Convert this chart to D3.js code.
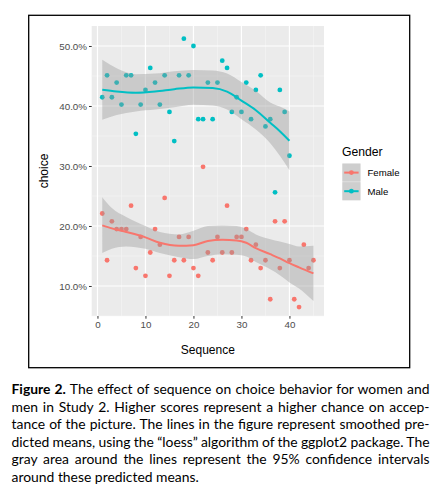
<!DOCTYPE html>
<html>
<head>
<meta charset="utf-8">
<script src="https://cdn.jsdelivr.net/npm/d3@7"></script>
<style>
  body { margin: 0; background: #fff; }
  svg { display: block; }
</style>
</head>
<body>
<div id="chart"></div>
<script>
// observed choice rates per sequence position (in %)
const femaleSeq = [1,2,3,4,5,6,7,8,9,10,11,12,13,14,15,16,17,18,19,20,21,22,23,24,25,26,27,28,29,30,31,32,33,34,35,36,37,38,39,40,41,42,43,44,45];
const femaleChoice = [22.08,14.29,20.78,19.48,19.48,19.48,23.38,12.99,18.18,11.69,15.58,19.48,16.88,24.68,11.69,14.29,18.18,14.29,18.18,12.99,11.69,29.87,15.58,14.29,18.18,15.58,23.38,15.58,18.18,18.18,19.48,14.29,16.88,12.99,14.29,7.79,20.78,12.99,20.78,14.29,7.79,6.49,16.88,12.99,14.29];

const maleSeq = [1,2,3,4,5,6,7,8,9,10,11,12,13,14,15,16,17,18,19,20,21,22,23,24,25,26,27,28,29,30,31,32,33,34,35,36,37,38,39,40];
const maleChoice = [41.46,45.12,41.46,43.90,40.24,45.12,45.12,35.37,40.24,42.68,46.34,43.90,40.24,45.12,39.02,34.15,45.12,51.22,45.12,50.00,37.80,37.80,43.90,37.80,43.90,47.56,46.34,39.02,41.46,39.02,43.90,37.80,42.68,45.12,36.59,37.80,25.61,42.68,39.02,31.71];

// loess fit and 95% band
const femaleFitSeq = [1,3,6,10,13,17,20,23,26,29,31,33,36,38,40,42,45];
const femaleFit =   [20.1,19.6,19.0,18.1,17.2,16.7,16.8,17.5,17.7,17.6,17.2,16.3,15.3,14.6,13.8,13.1,12.1];
const femaleUpper = [24.8,23.0,21.5,20.0,19.0,18.6,19.2,20.0,20.1,20.0,19.5,18.6,17.8,17.4,17.0,16.6,16.7];
const femaleLower = [15.5,16.2,16.6,16.2,15.5,14.8,14.5,15.0,15.3,15.2,14.9,14.0,12.8,11.8,10.6,9.6,7.5];

const maleFitSeq = [1,4,8,12,16,20,24,27,30,33,36,38,40];
const maleFit =   [42.7,42.4,42.2,42.4,42.8,43.1,43.0,42.4,40.9,39.3,37.2,35.8,34.2];
const maleUpper = [47.7,46.3,45.3,45.4,45.8,46.0,45.9,45.4,44.0,42.5,40.6,39.9,39.1];
const maleLower = [37.7,38.5,39.1,39.4,39.8,40.2,40.1,39.4,37.8,36.1,33.8,31.7,29.3];

const xTicks = [0,10,20,30,40];
const yTicks = [10,20,30,40,50];
const groups = ["Female", "Male"];
const colors = { Female: "#F8766D", Male: "#00BFC4" };

const caption = [
  "men in Study 2. Higher scores represent a higher chance on accep-",
  "tance of the picture. The lines in the figure represent smoothed pre-",
  "dicted means, using the \u201cloess\u201d algorithm of the ggplot2 package. The",
  "gray area around the lines represent the 95% confidence intervals",
  "around these predicted means."
];

const W = 436, H = 493;
const panel = { left: 91.7, right: 324, top: 26, bottom: 316 };

const svg = d3.select("#chart").append("svg")
    .attr("width", W)
    .attr("height", H);

// figure frame
svg.append("rect")
    .attr("x", 28.7).attr("y", 15.3)
    .attr("width", 381).attr("height", 352.4)
    .attr("fill", "none")
    .attr("stroke", "#000")
    .attr("stroke-width", 1.3);

const x = d3.scaleLinear().domain([-1.2, 47.2]).range([panel.left, panel.right]);
const y = d3.scaleLinear().domain([5, 53.333]).range([panel.bottom, panel.top]);

svg.append("rect")
    .attr("x", panel.left).attr("y", panel.top)
    .attr("width", panel.right - panel.left)
    .attr("height", panel.bottom - panel.top)
    .attr("fill", "#ebebeb");

const grid = svg.append("g");
const xMinor = [5,15,25,35,45];
const yMinor = [5,15,25,35,45];
grid.selectAll(".xmin").data(xMinor).enter().append("line")
    .attr("x1", d => x(d)).attr("x2", d => x(d))
    .attr("y1", panel.top).attr("y2", panel.bottom)
    .attr("stroke", "#f7f7f7").attr("stroke-width", 0.6);
grid.selectAll(".ymin").data(yMinor).enter().append("line")
    .attr("y1", d => y(d)).attr("y2", d => y(d))
    .attr("x1", panel.left).attr("x2", panel.right)
    .attr("stroke", "#f7f7f7").attr("stroke-width", 0.6);
grid.selectAll(".xmaj").data(xTicks).enter().append("line")
    .attr("x1", d => x(d)).attr("x2", d => x(d))
    .attr("y1", panel.top).attr("y2", panel.bottom)
    .attr("stroke", "#fff").attr("stroke-width", 1.2);
grid.selectAll(".ymaj").data(yTicks).enter().append("line")
    .attr("y1", d => y(d)).attr("y2", d => y(d))
    .attr("x1", panel.left).attr("x2", panel.right)
    .attr("stroke", "#fff").attr("stroke-width", 1.2);

// axes
const xAxis = svg.append("g")
    .attr("transform", "translate(0," + panel.bottom + ")")
    .call(d3.axisBottom(x).tickValues(xTicks).tickSize(2.7).tickPadding(2));
const yAxis = svg.append("g")
    .attr("transform", "translate(" + panel.left + ",0)")
    .call(d3.axisLeft(y).tickValues(yTicks).tickSize(2.7).tickPadding(2)
      .tickFormat(d => d3.format(".1f")(d) + "%"));
[xAxis, yAxis].forEach(a => {
  a.select(".domain").remove();
  a.selectAll(".tick line").attr("stroke", "#333").attr("stroke-width", 1);
  a.selectAll(".tick text")
      .attr("fill", "#4d4d4d")
      .style("font", "9.8px 'Liberation Sans', Arial, sans-serif");
});

svg.append("text")
    .attr("x", (panel.left + panel.right) / 2)
    .attr("y", 354)
    .attr("text-anchor", "middle")
    .style("font", "12px 'Liberation Sans', Arial, sans-serif")
    .text("Sequence");

svg.append("text")
    .attr("transform", "translate(48," + ((panel.top + panel.bottom) / 2) + ") rotate(-90)")
    .attr("text-anchor", "middle")
    .style("font", "12px 'Liberation Sans', Arial, sans-serif")
    .text("choice");

// points
const pts = svg.append("g");
const femalePts = femaleSeq.map((s, i) => ({ s: s, v: femaleChoice[i], g: "Female" }));
const malePts = maleSeq.map((s, i) => ({ s: s, v: maleChoice[i], g: "Male" }));
pts.selectAll("circle")
    .data(femalePts.concat(malePts))
    .enter().append("circle")
    .attr("cx", d => x(d.s))
    .attr("cy", d => y(d.v))
    .attr("r", 2.4)
    .attr("fill", d => colors[d.g]);

// smoothers with confidence bands
const smooth = {
  Female: femaleFitSeq.map((s, i) => ({ s: s, fit: femaleFit[i], hi: femaleUpper[i], lo: femaleLower[i] })),
  Male: maleFitSeq.map((s, i) => ({ s: s, fit: maleFit[i], hi: maleUpper[i], lo: maleLower[i] }))
};

const band = d3.area()
    .x(d => x(d.s))
    .y0(d => y(d.lo))
    .y1(d => y(d.hi))
    .curve(d3.curveMonotoneX);
const line = d3.line()
    .x(d => x(d.s))
    .y(d => y(d.fit))
    .curve(d3.curveMonotoneX);

groups.forEach(g => {
  svg.append("path")
      .datum(smooth[g])
      .attr("d", band)
      .attr("fill", "#999999")
      .attr("fill-opacity", 0.4);
  svg.append("path")
      .datum(smooth[g])
      .attr("d", line)
      .attr("fill", "none")
      .attr("stroke", colors[g])
      .attr("stroke-width", 2);
});

// legend
const legend = svg.append("g");
legend.append("text")
    .attr("x", 342).attr("y", 156)
    .style("font", "12.2px 'Liberation Sans', Arial, sans-serif")
    .text("Gender");
groups.forEach((g, i) => {
  const ky = 163.5 + i * 18.6;
  legend.append("rect")
      .attr("x", 342.3).attr("y", ky)
      .attr("width", 18.2).attr("height", 18.2)
      .attr("fill", "#f2f2f2");
  legend.append("rect")
      .attr("x", 342.3).attr("y", ky)
      .attr("width", 18.2).attr("height", 18.2)
      .attr("fill", "#999999").attr("fill-opacity", 0.4);
  legend.append("line")
      .attr("x1", 344.2).attr("x2", 358.6)
      .attr("y1", ky + 9.1).attr("y2", ky + 9.1)
      .attr("stroke", colors[g]).attr("stroke-width", 2);
  legend.append("circle")
      .attr("cx", 351.4).attr("cy", ky + 9.1).attr("r", 2.4)
      .attr("fill", colors[g]);
  legend.append("text")
      .attr("x", 367.5).attr("y", ky + 12.6)
      .style("font", "9.6px 'Liberation Sans', Arial, sans-serif")
      .text(g);
});

// caption, justified like the journal text
const capFont = "13.9px Lato, 'Open Sans', sans-serif";
const capLeft = 11.5, capRight = 429.5, capTop = 394, capStep = 17.6;
const first = svg.append("text")
    .attr("x", capLeft).attr("y", capTop)
    .style("font", capFont);
first.append("tspan").attr("font-weight", "bold").text("Figure 2.");
first.append("tspan").text(" The effect of sequence on choice behavior for women and");

const capLines = [first];
caption.forEach((t, i) => {
  capLines.push(svg.append("text")
      .attr("x", capLeft).attr("y", capTop + (i + 1) * capStep)
      .style("font", capFont)
      .text(t));
});
capLines.forEach((el, i) => {
  if (i === capLines.length - 1) return;
  const w = el.node().getComputedTextLength();
  const spaces = (el.text().match(/ /g) || []).length;
  el.attr("word-spacing", ((capRight - capLeft) - w) / spaces);
});
</script>
</body>
</html>
